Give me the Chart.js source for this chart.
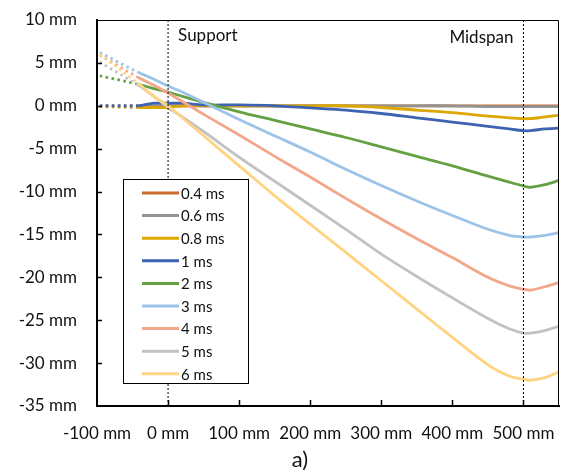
<!DOCTYPE html>
<html>
<head>
<meta charset="utf-8">
<script src="https://cdn.jsdelivr.net/npm/chart.js@4/dist/chart.umd.min.js"></script>
<style>
  body { margin: 0; background: #fff; }
  canvas { display: block; }
</style>
</head>
<body>
<canvas id="chart" width="563" height="475"></canvas>
<script>
// position along the beam (mm), shared by all series; first segment is the dotted extrapolation
var xs = [-96, -42, -20, 0, 20, 50, 100, 150, 200, 250, 300, 350, 400, 450, 480, 500, 510, 530, 550]

var names = ['0.4 ms', '0.6 ms', '0.8 ms', '1 ms', '2 ms', '3 ms', '4 ms', '5 ms', '6 ms']
var colors = ['#CC6A2C', '#939393', '#DCA700', '#3D63B2', '#65A043', '#9DC3E6', '#F2A68A', '#C2C2C2', '#FFD37F']

var d04 = [0, 0, 0, 0, 0, 0, 0, 0, 0, 0, 0, 0, 0, 0, 0, 0, 0, 0, 0]
var d06 = [0, 0, 0, 0, 0, 0, 0, 0, 0, 0, 0, 0, 0, -0.1, -0.1, -0.1, -0.1, -0.1, -0.1]
var d08 = [-0.1, -0.2, -0.2, -0.2, 0, 0, 0, 0, 0, 0, -0.2, -0.5, -0.8, -1.2, -1.4, -1.5, -1.5, -1.3, -1.1]
var d1 = [0, 0, 0.3, 0.3, 0.3, 0.1, 0.1, 0, -0.25, -0.5, -0.9, -1.4, -1.9, -2.4, -2.7, -2.9, -2.9, -2.7, -2.6]
var d2 = [3.5, 2.5, 2.0, 1.6, 1.1, 0.4, -0.7, -1.7, -2.7, -3.7, -4.8, -5.9, -7.0, -8.2, -8.9, -9.35, -9.5, -9.2, -8.7]
var d3 = [6.2, 3.9, 3.1, 2.3, 1.6, 0.4, -1.6, -3.5, -5.4, -7.4, -9.3, -11.1, -12.8, -14.4, -15.1, -15.3, -15.3, -15.1, -14.8]
var d4 = [5.9, 3.3, 2.4, 1.5, 0.5, -1.0, -3.4, -5.9, -8.3, -10.8, -13.2, -15.5, -17.7, -20.0, -21.0, -21.4, -21.5, -21.1, -20.6]
var d5 = [5.1, 2.4, 1.1, -0.2, -1.3, -3.0, -6.0, -8.8, -11.6, -14.4, -17.3, -19.9, -22.4, -24.8, -26.0, -26.5, -26.5, -26.2, -25.7]
var d6 = [6.0, 2.6, 1.1, 0.0, -1.4, -3.5, -7.0, -10.5, -13.8, -17.1, -20.4, -23.7, -27.0, -30.2, -31.5, -31.9, -32.0, -31.7, -31.0]
var series = [d04, d06, d08, d1, d2, d3, d4, d5, d6]

var xTicks = [-100, 0, 100, 200, 300, 400, 500]
var yTicks = [10, 5, 0, -5, -10, -15, -20, -25, -30, -35]
var xMin = -100, xMax = 550, yMin = -35, yMax = 10

var markers = [{x: 0, text: 'Support', side: 'left'}, {x: 500, text: 'Midspan', side: 'right'}]
var caption = 'a)'

var FONT = 'Lato, "Open Sans", sans-serif'

function toPoints(vals) {
  return vals.map((v, i) => ({x: xs[i], y: v}))
}

let datasets = series.map((vals, i) => ({
  label: names[i],
  data: toPoints(vals),
  borderColor: colors[i],
  backgroundColor: colors[i],
  borderWidth: 2.8,
  pointRadius: 0,
  tension: 0.3,
  order: names.length - i,
  segment: {
    borderDash: ctx => ctx.p0DataIndex === 0 ? [2.5, 3.5] : undefined
  }
}))

markers.forEach(m => {
  datasets.push({
    label: '_' + m.text,
    data: [{x: m.x, y: yMax}, {x: m.x, y: yMin}],
    borderColor: '#000',
    borderWidth: 1,
    borderDash: [2, 2],
    pointRadius: 0,
    order: -1
  })
})

const framePlugin = {
  id: 'frame',
  afterDatasetsDraw(chart) {
    let ctx = chart.ctx
    let a = chart.chartArea
    let sx = chart.scales.x, sy = chart.scales.y
    ctx.save()
    ctx.strokeStyle = '#000'
    ctx.lineWidth = 1
    ctx.beginPath()
    ctx.moveTo(a.left, a.top + 0.5)
    ctx.lineTo(a.right - 0.5, a.top + 0.5)
    ctx.lineTo(a.right - 0.5, a.bottom)
    ctx.stroke()

    // inward tick marks
    ctx.lineWidth = 1.5
    ctx.beginPath()
    xTicks.forEach(v => {
      if (v === xMin) return
      let px = Math.round(sx.getPixelForValue(v)) + 0.5
      ctx.moveTo(px, a.bottom)
      ctx.lineTo(px, a.bottom - 6)
    })
    yTicks.forEach(v => {
      if (v === yMin || v === yMax) return
      let py = Math.round(sy.getPixelForValue(v)) + 0.5
      ctx.moveTo(a.left, py)
      ctx.lineTo(a.left + 5, py)
    })
    ctx.stroke()

    ctx.fillStyle = '#111'
    ctx.font = '17px ' + FONT
    ctx.textBaseline = 'alphabetic'
    markers.forEach(m => {
      let px = sx.getPixelForValue(m.x)
      if (m.side === 'left') {
        ctx.textAlign = 'left'
        ctx.fillText(m.text, px + 10, a.top + 21)
      } else {
        ctx.textAlign = 'right'
        ctx.fillText(m.text, px - 10, a.top + 23)
      }
    })

    // legend box
    let bx = 123, by = 179, bw = 125, bh = 204
    ctx.fillStyle = '#fff'
    ctx.fillRect(bx, by, bw, bh)
    ctx.strokeStyle = '#000'
    ctx.lineWidth = 1
    ctx.strokeRect(bx + 0.5, by + 0.5, bw, bh)
    ctx.font = '15px ' + FONT
    ctx.textAlign = 'left'
    ctx.textBaseline = 'middle'
    names.forEach((n, i) => {
      let ly = by + 14 + i * 22.6
      ctx.strokeStyle = colors[i]
      ctx.lineWidth = 3
      ctx.beginPath()
      ctx.moveTo(bx + 19, ly)
      ctx.lineTo(bx + 56, ly)
      ctx.stroke()
      ctx.fillStyle = '#111'
      ctx.fillText(n, bx + 58, ly + 1)
    })

    ctx.font = '22px ' + FONT
    ctx.textAlign = 'center'
    ctx.textBaseline = 'alphabetic'
    ctx.fillStyle = '#111'
    ctx.fillText(caption, 300, 467)
    ctx.restore()
  }
}

new Chart(document.getElementById('chart'), {
  type: 'line',
  data: {datasets: datasets},
  options: {
    responsive: false,
    animation: false,
    layout: {padding: {top: 20, right: 4, left: 0, bottom: 0}},
    plugins: {legend: {display: false}, tooltip: {enabled: false}},
    scales: {
      x: {
        type: 'linear',
        min: xMin,
        max: xMax,
        afterBuildTicks: scale => { scale.ticks = xTicks.map(v => ({value: v})) },
        afterFit: scale => {
          scale.height = 69
          scale.paddingLeft = 0
          scale.paddingRight = 0
        },
        grid: {display: false, drawTicks: false},
        border: {display: true, color: '#000', width: 2},
        ticks: {
          padding: 17,
          maxRotation: 0,
          autoSkip: false,
          color: '#111',
          font: {family: FONT, size: 17},
          callback: v => v + ' mm'
        }
      },
      y: {
        min: yMin,
        max: yMax,
        afterBuildTicks: scale => { scale.ticks = yTicks.map(v => ({value: v})) },
        afterFit: scale => {
          scale.width = 97
          scale.paddingTop = 0
          scale.paddingBottom = 0
        },
        grid: {display: false, drawTicks: false},
        border: {display: true, color: '#000', width: 2},
        ticks: {
          padding: 20,
          color: '#111',
          font: {family: FONT, size: 17},
          callback: v => v + ' mm'
        }
      }
    }
  },
  plugins: [framePlugin]
})
</script>
</body>
</html>
